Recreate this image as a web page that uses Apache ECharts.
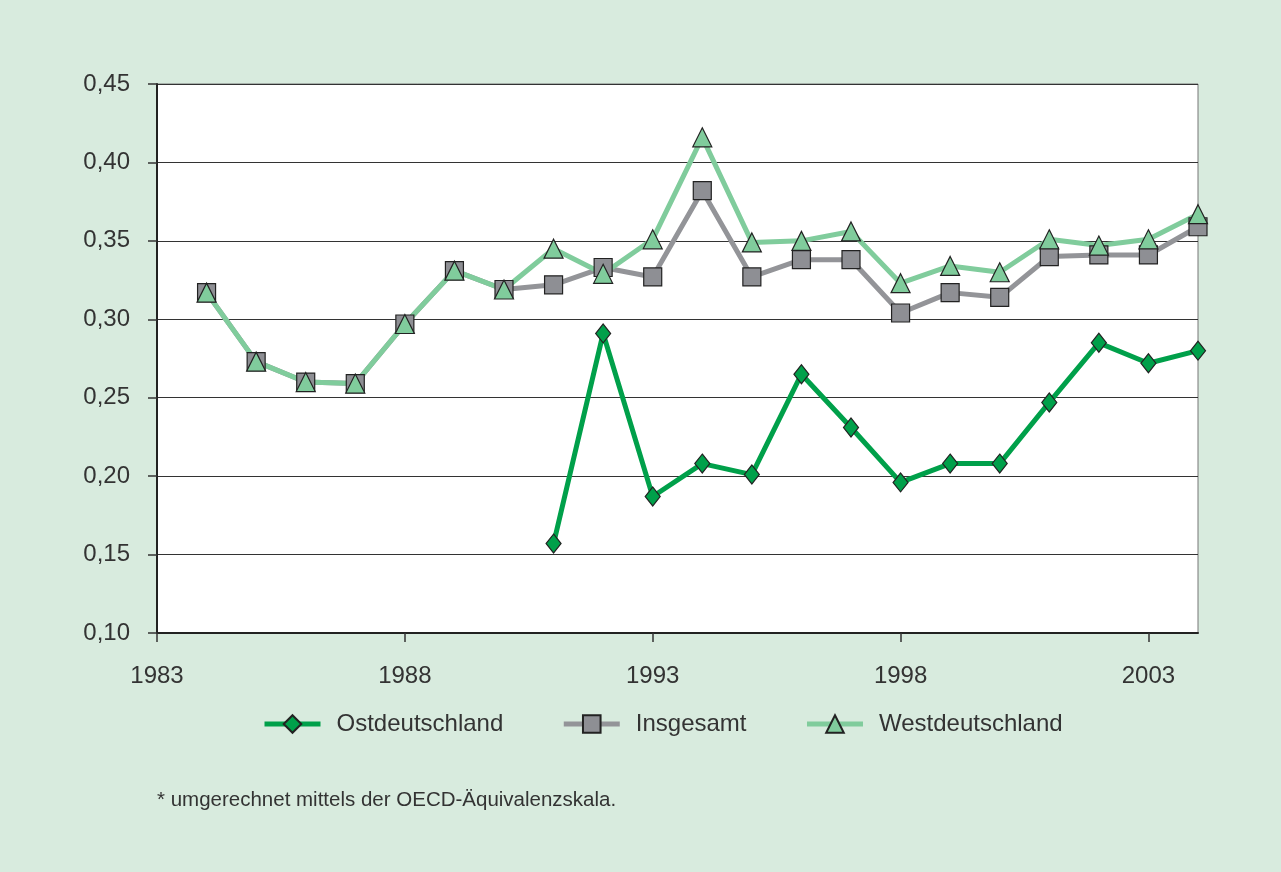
<!DOCTYPE html>
<html>
<head>
<meta charset="utf-8">
<script src="https://cdn.jsdelivr.net/npm/echarts@6/dist/echarts.min.js"></script>
<style>
  html, body { margin: 0; padding: 0; background: #d8ebde; }
  #chart { width: 1281px; height: 872px; }
</style>
</head>
<body>
<div id="chart"></div>
<script>
// Werte
const years = [1984, 1985, 1986, 1987, 1988, 1989, 1990, 1991, 1992, 1993, 1994,
               1995, 1996, 1997, 1998, 1999, 2000, 2001, 2002, 2003, 2004];
const insgesamt = [0.317, 0.273, 0.260, 0.259, 0.297, 0.331, 0.319, 0.322, 0.333, 0.327, 0.382,
                   0.327, 0.338, 0.338, 0.304, 0.317, 0.314, 0.340, 0.341, 0.341, 0.359];
const west = [0.317, 0.273, 0.260, 0.259, 0.297, 0.331, 0.319, 0.345, 0.329, 0.351, 0.416,
              0.349, 0.350, 0.356, 0.323, 0.334, 0.330, 0.351, 0.347, 0.351, 0.367];
const ostYears = [1991, 1992, 1993, 1994, 1995, 1996, 1997, 1998, 1999, 2000, 2001, 2002, 2003, 2004];
const ost = [0.157, 0.291, 0.187, 0.208, 0.201, 0.265, 0.231, 0.196, 0.208, 0.208, 0.247, 0.285, 0.272, 0.280];
const xTicks = [1983, 1988, 1993, 1998, 2003];
const footnote = '* umgerechnet mittels der OECD-Äquivalenzskala.';

const pairs = (xs, ys) => xs.map((x, i) => [x, ys[i]]);
const fmt = (v) => v.toFixed(2).replace('.', ',');

const chart = echarts.init(document.getElementById('chart'), null, { renderer: 'canvas' });

const font = 'Liberation Sans, Arial, sans-serif';
const border = { borderColor: '#222', borderWidth: 1.2 };

chart.setOption({
  backgroundColor: '#d8ebde',
  animation: false,
  textStyle: { fontFamily: font },
  grid: { left: 157, top: 84, right: 83, bottom: 239, show: true,
          backgroundColor: '#fff', borderColor: '#777', borderWidth: 1 },
  xAxis: {
    type: 'value', min: 1983, max: 2004,
    axisLine: { lineStyle: { color: '#222', width: 2 } },
    axisTick: { show: true, length: 9, customValues: xTicks, lineStyle: { color: '#333', width: 1.5 } },
    axisLabel: { customValues: xTicks, color: '#333', fontSize: 24, margin: 31, fontFamily: font,
                 formatter: (v) => String(v) },
    splitLine: { show: false }
  },
  yAxis: {
    type: 'value', min: 0.10, max: 0.45, interval: 0.05,
    axisLine: { show: true, lineStyle: { color: '#222', width: 2 } },
    axisTick: { show: true, length: 9, lineStyle: { color: '#333', width: 1.5 } },
    axisLabel: { color: '#333', fontSize: 24, margin: 27, formatter: fmt, fontFamily: font },
    splitLine: { lineStyle: { color: '#333', width: 1.2 } }
  },
  legend: {
    top: 707, left: 257, itemGap: 58, itemWidth: 56, itemHeight: 22,
    lineStyle: { width: 5 },
    textStyle: { color: '#333', fontSize: 24, fontFamily: font, padding: [0, 0, 0, 11] },
    data: ['Ostdeutschland', 'Insgesamt', 'Westdeutschland']
  },
  graphic: [{
    type: 'text', left: 157, top: 790,
    style: { text: footnote, fill: '#333', font: '20.5px ' + font }
  }],
  series: [
    {
      name: 'Ostdeutschland', type: 'line', data: pairs(ostYears, ost),
      symbol: 'diamond', symbolSize: [15, 19], showAllSymbol: true,
      lineStyle: { color: '#00a04a', width: 5 },
      itemStyle: Object.assign({ color: '#00a04a' }, border)
    },
    {
      name: 'Insgesamt', type: 'line', data: pairs(years, insgesamt),
      symbol: 'rect', symbolSize: 18, showAllSymbol: true,
      lineStyle: { color: '#939498', width: 5 },
      itemStyle: Object.assign({ color: '#8e8f94' }, border)
    },
    {
      name: 'Westdeutschland', type: 'line', data: pairs(years, west),
      symbol: 'triangle', symbolSize: [19, 19], showAllSymbol: true,
      lineStyle: { color: '#80cc9c', width: 5 },
      itemStyle: Object.assign({ color: '#80cc9c' }, border)
    }
  ]
});
</script>
</body>
</html>
